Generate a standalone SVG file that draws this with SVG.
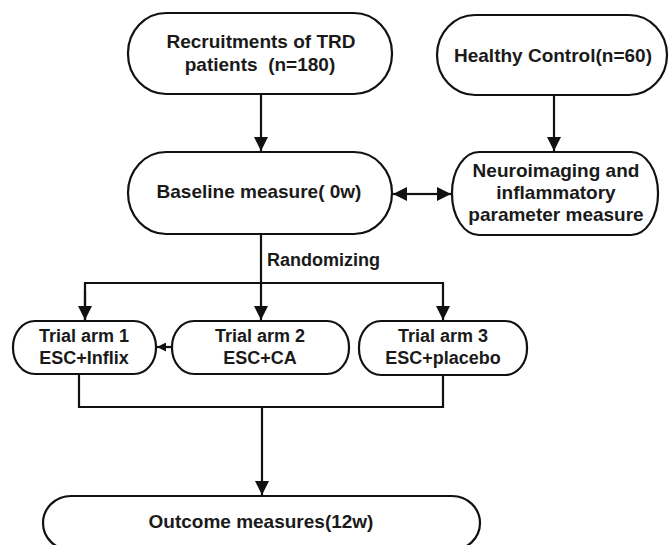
<svg xmlns="http://www.w3.org/2000/svg" width="670" height="545" viewBox="0 0 670 545">
<defs>
<style>
.box{fill:#fff;stroke:#111;stroke-width:2.2}
.ln{fill:none;stroke:#111;stroke-width:2.2}
.t{font-family:"Liberation Sans",Arial,sans-serif;font-weight:bold;font-size:19px;fill:#1a1a1a;text-anchor:middle;white-space:pre}
.s{font-size:18px}
</style>
<marker id="ah" viewBox="0 0 14 14" refX="14" refY="7" markerWidth="14" markerHeight="14" markerUnits="userSpaceOnUse" orient="auto">
<path d="M0,0 L14,7 L0,14 Z" fill="#111"/>
</marker>
<marker id="ahs" viewBox="0 0 10 10" refX="10" refY="5" markerWidth="9" markerHeight="9" markerUnits="userSpaceOnUse" orient="auto">
<path d="M0,0 L10,5 L0,10 Z" fill="#111"/>
</marker>
</defs>
<rect width="670" height="545" fill="#fff"/>
<g id="connectors">
<line class="ln" x1="261" y1="94" x2="261" y2="151" marker-end="url(#ah)"/>
<line class="ln" x1="554" y1="95" x2="554" y2="151" marker-end="url(#ah)"/>
<line class="ln" x1="420" y1="194" x2="393" y2="194" marker-end="url(#ah)"/>
<line class="ln" x1="420" y1="194" x2="451" y2="194" marker-end="url(#ah)"/>
<line class="ln" x1="261" y1="234" x2="261" y2="320" marker-end="url(#ah)"/>
<polyline class="ln" points="85,320 85,283 443,283 443,320" marker-end="url(#ah)"/>
<line class="ln" x1="85" y1="290" x2="85" y2="320" marker-end="url(#ah)"/>
<line class="ln" x1="172" y1="347" x2="157" y2="347" marker-end="url(#ahs)"/>
<polyline class="ln" points="79,374 79,407 443,407 443,375"/>
<line class="ln" x1="262" y1="407" x2="262" y2="495" marker-end="url(#ah)"/>
<text class="t s" x="267" y="266" text-anchor="start" style="text-anchor:start">Randomizing</text>
</g>
<g id="recruit">
<rect class="box" x="128" y="13" width="264" height="81" rx="38" ry="40"/>
<text class="t" x="261" y="48">Recruitments of TRD</text>
<text class="t" x="260" y="71">patients  (n=180)</text>
</g>
<g id="healthy">
<rect class="box" x="437" y="15" width="230" height="80" rx="38" ry="40"/>
<text class="t" x="553" y="62">Healthy Control(n=60)</text>
</g>
<g id="baseline">
<rect class="box" x="128" y="152" width="264" height="82" rx="38" ry="41"/>
<text class="t" x="259" y="198">Baseline measure( 0w)</text>
</g>
<g id="neuro">
<rect class="box" x="452" y="152" width="206" height="83" rx="27" ry="41"/>
<text class="t" x="556" y="177">Neuroimaging and</text>
<text class="t" x="556" y="199">inflammatory</text>
<text class="t" x="556" y="221">parameter measure</text>
</g>
<g id="arm1">
<rect class="box" x="13" y="321" width="143" height="53" rx="22" ry="26"/>
<text class="t s" x="84" y="342">Trial arm 1</text>
<text class="t s" x="84" y="364">ESC+Inflix</text>
</g>
<g id="arm2">
<rect class="box" x="172" y="321" width="177" height="53" rx="22" ry="26"/>
<text class="t s" x="260" y="342">Trial arm 2</text>
<text class="t s" x="260" y="364">ESC+CA</text>
</g>
<g id="arm3">
<rect class="box" x="359" y="321" width="168" height="54" rx="22" ry="26"/>
<text class="t s" x="443" y="342">Trial arm 3</text>
<text class="t s" x="443" y="364">ESC+placebo</text>
</g>
<g id="outcome">
<rect class="box" x="43" y="496" width="437" height="54" rx="28" ry="27"/>
<text class="t" x="261" y="528">Outcome measures(12w)</text>
</g>
</svg>
